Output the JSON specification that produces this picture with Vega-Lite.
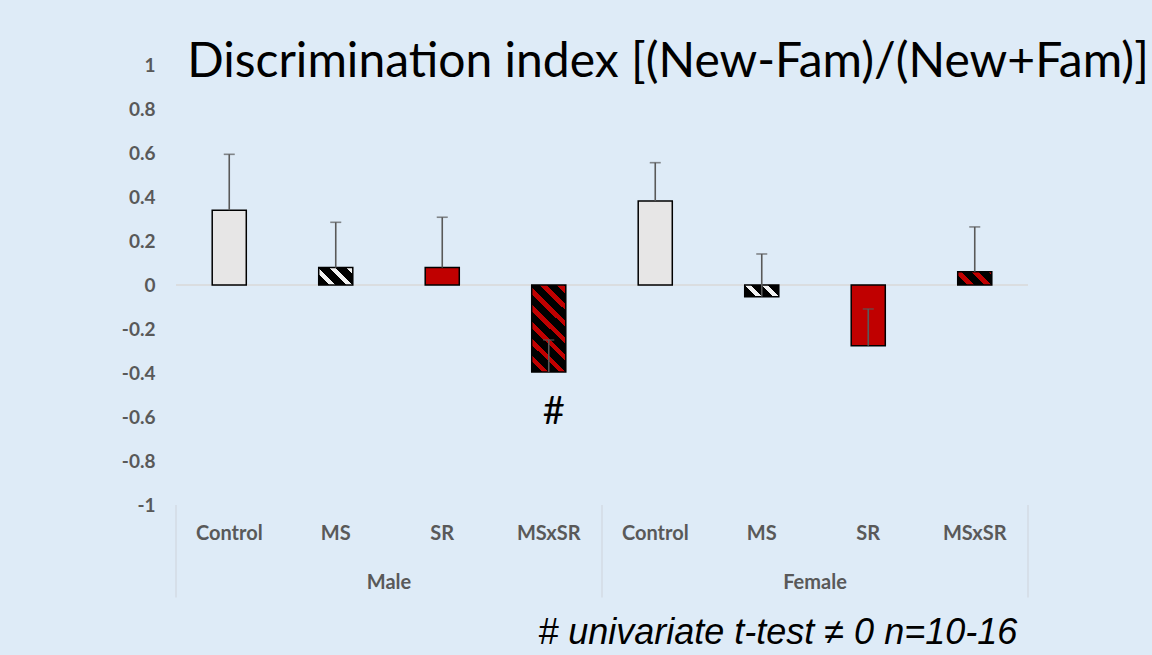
{
"$schema": "https://vega.github.io/schema/vega-lite/v6.json",
"width": 852, "height": 440,
"autosize": {"type": "none"},
"padding": {"left": 176, "top": 65, "right": 124, "bottom": 150},
"background": "#deebf7",
"config": {"view": {"stroke": null}, "font": "Lato"},
"title": {"text": "Discrimination index [(New-Fam)/(New+Fam)]", "fontSize": 48, "font": "Lato", "fontWeight": "normal", "color": "#000000", "anchor": "middle", "dx": 66, "offset": -55, "baseline": "middle"},
"data": {"values": [
{"sex": "Male", "treatment": "Control", "key": "Male|Control", "mean": 0.34, "errHigh": 0.594, "sig": ""},
{"sex": "Male", "treatment": "MS", "key": "Male|MS", "mean": 0.079, "errHigh": 0.285, "sig": ""},
{"sex": "Male", "treatment": "SR", "key": "Male|SR", "mean": 0.079, "errHigh": 0.308, "sig": ""},
{"sex": "Male", "treatment": "MSxSR", "key": "Male|MSxSR", "mean": -0.395, "errHigh": -0.25, "sig": "#"},
{"sex": "Female", "treatment": "Control", "key": "Female|Control", "mean": 0.382, "errHigh": 0.556, "sig": ""},
{"sex": "Female", "treatment": "MS", "key": "Female|MS", "mean": -0.053, "errHigh": 0.141, "sig": ""},
{"sex": "Female", "treatment": "SR", "key": "Female|SR", "mean": -0.276, "errHigh": -0.109, "sig": ""},
{"sex": "Female", "treatment": "MSxSR", "key": "Female|MSxSR", "mean": 0.06, "errHigh": 0.264, "sig": ""}
]},
"encoding": {
  "x": {"field": "key", "type": "nominal", "sort": null,
    "scale": {"domain": ["Male|Control", "Male|MS", "Male|SR", "Male|MSxSR", "Female|Control", "Female|MS", "Female|SR", "Female|MSxSR"], "paddingInner": 0, "paddingOuter": 0},
    "axis": {"title": null, "labelExpr": "split(datum.label, '|')[1]", "labelAngle": 0, "domain": false, "ticks": false, "grid": false, "labelPadding": 18, "labelFontSize": 20, "labelFontWeight": "bold", "labelColor": "#595959"}}
},
"layer": [
  {"data": {"values": [{}]}, "mark": {"type": "rule", "color": "#d9d9d9", "strokeWidth": 1.5},
   "encoding": {"x": null, "y": {"datum": 0, "type": "quantitative", "scale": {"domain": [-1, 1], "nice": false}}}},
  {"transform": [{"filter": "datum.treatment === 'Control'"}],
   "mark": {"type": "bar", "fill": "#e7e6e6", "stroke": "#000000", "strokeWidth": 1.5, "width": {"band": 0.32}},
   "encoding": {"y": {"field": "mean", "type": "quantitative", "scale": {"domain": [-1, 1], "nice": false},
     "axis": {"title": null, "values": [-1, -0.8, -0.6, -0.4, -0.2, 0, 0.2, 0.4, 0.6, 0.8, 1], "labelExpr": "toString(round(datum.value*10)/10)", "domain": false, "ticks": false, "grid": false, "labelPadding": 21, "labelFontSize": 19, "labelFontWeight": "bold", "labelColor": "#595959"}}}},
  {"transform": [{"filter": "datum.treatment === 'SR'"}],
   "mark": {"type": "bar", "fill": "#c00000", "stroke": "#000000", "strokeWidth": 1.5, "width": {"band": 0.32}},
   "encoding": {"y": {"field": "mean", "type": "quantitative"}}},
  {"transform": [{"filter": "datum.key === 'Male|MSxSR'"}],
   "mark": {"type": "bar", "stroke": "#000000", "strokeWidth": 1.5, "width": {"band": 0.32},
     "fill": {"gradient": "linear", "x1": 0, "y1": 1, "x2": 0.530, "y2": -0.356, "stops": [
       {"offset": 0, "color": "#000000"}, {"offset": 0.075, "color": "#000000"}, {"offset": 0.075, "color": "#c00000"}, {"offset": 0.125, "color": "#c00000"},
       {"offset": 0.125, "color": "#000000"}, {"offset": 0.2, "color": "#000000"}, {"offset": 0.2, "color": "#c00000"}, {"offset": 0.25, "color": "#c00000"},
       {"offset": 0.25, "color": "#000000"}, {"offset": 0.325, "color": "#000000"}, {"offset": 0.325, "color": "#c00000"}, {"offset": 0.375, "color": "#c00000"},
       {"offset": 0.375, "color": "#000000"}, {"offset": 0.45, "color": "#000000"}, {"offset": 0.45, "color": "#c00000"}, {"offset": 0.5, "color": "#c00000"},
       {"offset": 0.5, "color": "#000000"}, {"offset": 0.575, "color": "#000000"}, {"offset": 0.575, "color": "#c00000"}, {"offset": 0.625, "color": "#c00000"},
       {"offset": 0.625, "color": "#000000"}, {"offset": 0.7, "color": "#000000"}, {"offset": 0.7, "color": "#c00000"}, {"offset": 0.75, "color": "#c00000"},
       {"offset": 0.75, "color": "#000000"}, {"offset": 0.825, "color": "#000000"}, {"offset": 0.825, "color": "#c00000"}, {"offset": 0.875, "color": "#c00000"},
       {"offset": 0.875, "color": "#000000"}, {"offset": 0.95, "color": "#000000"}, {"offset": 0.95, "color": "#c00000"}, {"offset": 1, "color": "#c00000"}]}},
   "encoding": {"y": {"field": "mean", "type": "quantitative"}}},
  {"transform": [{"filter": "datum.key === 'Male|MS'"}],
   "mark": {"type": "bar", "stroke": "#000000", "strokeWidth": 1.5, "width": {"band": 0.32},
     "fill": {"gradient": "linear", "x1": 0, "y1": 1, "x2": 1.586, "y2": 0.1885, "stops": [
       {"offset": 0, "color": "#000000"}, {"offset": 0.1625, "color": "#000000"}, {"offset": 0.1625, "color": "#f2f2f2"}, {"offset": 0.25, "color": "#f2f2f2"},
       {"offset": 0.25, "color": "#000000"}, {"offset": 0.4125, "color": "#000000"}, {"offset": 0.4125, "color": "#f2f2f2"}, {"offset": 0.5, "color": "#f2f2f2"},
       {"offset": 0.5, "color": "#000000"}, {"offset": 0.6625, "color": "#000000"}, {"offset": 0.6625, "color": "#f2f2f2"}, {"offset": 0.75, "color": "#f2f2f2"},
       {"offset": 0.75, "color": "#000000"}, {"offset": 0.9125, "color": "#000000"}, {"offset": 0.9125, "color": "#f2f2f2"}, {"offset": 1, "color": "#f2f2f2"}]}},
   "encoding": {"y": {"field": "mean", "type": "quantitative"}}},
  {"transform": [{"filter": "datum.key === 'Female|MS'"}],
   "mark": {"type": "bar", "stroke": "#000000", "strokeWidth": 1.5, "width": {"band": 0.32},
     "fill": {"gradient": "linear", "x1": 0, "y1": 1, "x2": 1.342, "y2": 0.540, "stops": [
       {"offset": 0, "color": "#000000"}, {"offset": 0.2167, "color": "#000000"}, {"offset": 0.2167, "color": "#f2f2f2"}, {"offset": 0.3333, "color": "#f2f2f2"},
       {"offset": 0.3333, "color": "#000000"}, {"offset": 0.55, "color": "#000000"}, {"offset": 0.55, "color": "#f2f2f2"}, {"offset": 0.6667, "color": "#f2f2f2"},
       {"offset": 0.6667, "color": "#000000"}, {"offset": 0.8833, "color": "#000000"}, {"offset": 0.8833, "color": "#f2f2f2"}, {"offset": 1, "color": "#f2f2f2"}]}},
   "encoding": {"y": {"field": "mean", "type": "quantitative"}}},
  {"transform": [{"filter": "datum.key === 'Female|MSxSR'"}],
   "mark": {"type": "bar", "stroke": "#000000", "strokeWidth": 1.5, "width": {"band": 0.32},
     "fill": {"gradient": "linear", "x1": 0, "y1": 1, "x2": 1.3035, "y2": 0.494, "stops": [
       {"offset": 0, "color": "#000000"}, {"offset": 0.2, "color": "#000000"}, {"offset": 0.2, "color": "#c00000"}, {"offset": 0.3333, "color": "#c00000"},
       {"offset": 0.3333, "color": "#000000"}, {"offset": 0.5333, "color": "#000000"}, {"offset": 0.5333, "color": "#c00000"}, {"offset": 0.6667, "color": "#c00000"},
       {"offset": 0.6667, "color": "#000000"}, {"offset": 0.8667, "color": "#000000"}, {"offset": 0.8667, "color": "#c00000"}, {"offset": 1, "color": "#c00000"}]}},
   "encoding": {"y": {"field": "mean", "type": "quantitative"}}},
  {"mark": {"type": "rule", "color": "#595959", "strokeWidth": 1.6},
   "encoding": {"x": {"field": "key", "type": "nominal", "sort": null, "bandPosition": 0.5}, "y": {"field": "mean", "type": "quantitative"}, "y2": {"field": "errHigh"}}},
  {"mark": {"type": "tick", "color": "#595959", "size": 11, "thickness": 1.6},
   "encoding": {"x": {"field": "key", "type": "nominal", "sort": null, "bandPosition": 0.5}, "y": {"field": "errHigh", "type": "quantitative"}}},
  {"transform": [{"filter": "datum.sig !== ''"}],
   "mark": {"type": "text", "fontSize": 38, "color": "#000000", "baseline": "middle", "align": "center", "font": "Lato", "dx": 5},
   "encoding": {"x": {"field": "key", "type": "nominal", "sort": null, "bandPosition": 0.5}, "y": {"datum": -0.58, "type": "quantitative"}, "text": {"field": "sig"}}},
  {"data": {"values": [{"group": "Male", "key": "Male|SR"}, {"group": "Female", "key": "Female|SR"}]},
   "mark": {"type": "text", "fontSize": 20, "fontWeight": "bold", "color": "#595959", "baseline": "middle", "align": "center"},
   "encoding": {"x": {"field": "key", "type": "nominal", "sort": null, "bandPosition": 0}, "y": {"datum": -1.355, "type": "quantitative"}, "text": {"field": "group"}}},
  {"data": {"values": [{"key": "Male|Control"}, {"key": "Female|Control"}]},
   "mark": {"type": "rule", "color": "#d0d7e0", "strokeWidth": 1.2},
   "encoding": {"x": {"field": "key", "type": "nominal", "sort": null, "bandPosition": 0}, "y": {"datum": -1, "type": "quantitative"}, "y2": {"datum": -1.42}}},
  {"data": {"values": [{"key": "Female|MSxSR"}]},
   "mark": {"type": "rule", "color": "#d0d7e0", "strokeWidth": 1.2},
   "encoding": {"x": {"field": "key", "type": "nominal", "sort": null, "bandPosition": 1}, "y": {"datum": -1, "type": "quantitative"}, "y2": {"datum": -1.42}}},
  {"data": {"values": [{"note": "# univariate t-test ≠ 0 n=10-16", "key": "Female|MS"}]},
   "mark": {"type": "text", "fontSize": 36, "fontStyle": "italic", "font": "Liberation Sans", "color": "#000000", "baseline": "middle", "align": "center"},
   "encoding": {"x": {"field": "key", "type": "nominal", "sort": null, "bandPosition": 0.65}, "y": {"datum": -1.582, "type": "quantitative"}, "text": {"field": "note"}}}
]
}
